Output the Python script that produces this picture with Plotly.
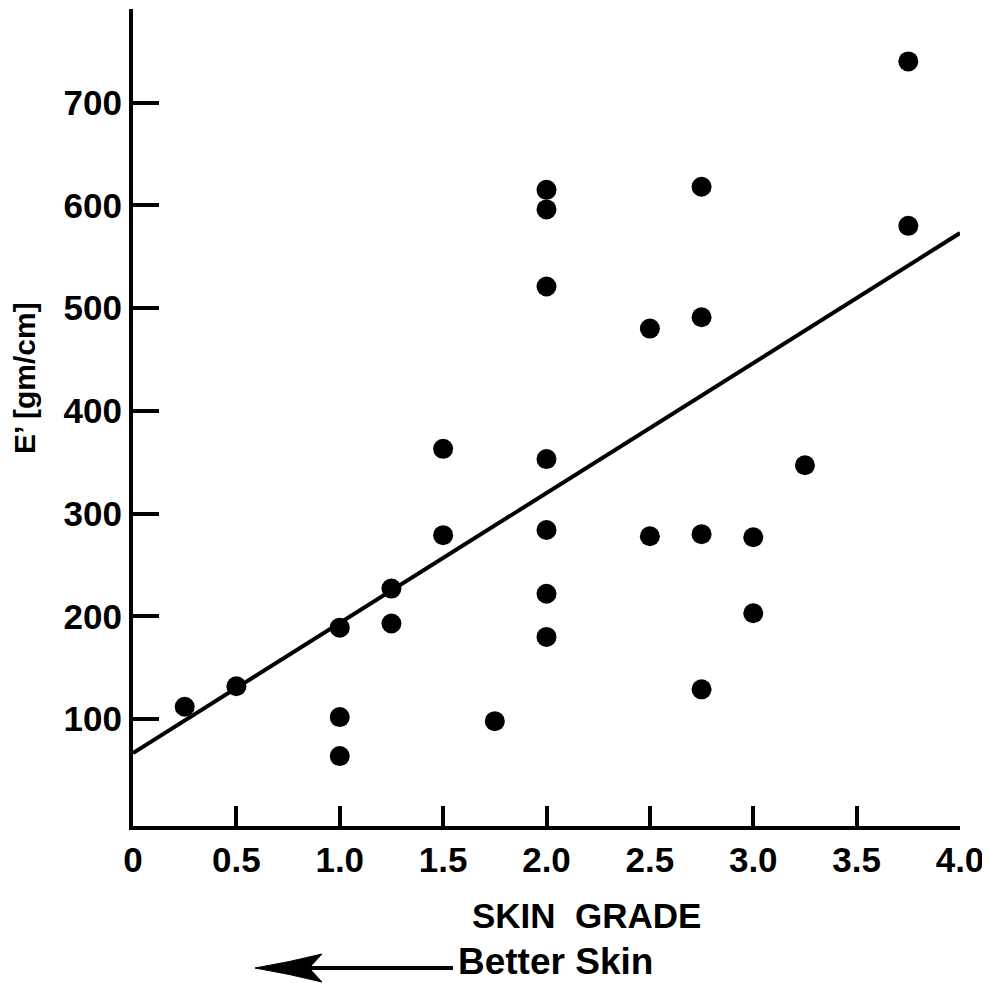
import plotly.graph_objects as go

# ---- data ----
skin_grade = [0.25, 0.5, 1.0, 1.0, 1.0, 1.25, 1.25, 1.5, 1.5, 1.75,
              2.0, 2.0, 2.0, 2.0, 2.0, 2.0, 2.0, 2.5, 2.5,
              2.75, 2.75, 2.75, 2.75, 3.0, 3.0, 3.25, 3.75, 3.75]
e_prime = [112, 132, 189, 102, 64, 193, 227, 279, 363, 98,
           222, 180, 284, 353, 521, 596, 615, 480, 278,
           618, 491, 280, 129, 277, 203, 347, 740, 580]
fit_x = [0.0, 4.0]
fit_y = [67, 573]
x_ticks = [0, 0.5, 1.0, 1.5, 2.0, 2.5, 3.0, 3.5, 4.0]
x_tick_labels = ["0", "0.5", "1.0", "1.5", "2.0", "2.5", "3.0", "3.5", "4.0"]
y_ticks = [100, 200, 300, 400, 500, 600, 700]
y_tick_labels = ["100", "200", "300", "400", "500", "600", "700"]

# the page body has an 8px margin; work in screen pixels and shift
OFF = 8
SW, SH = 990, 983
W, H = SW - OFF, SH - OFF
plot_left, plot_right, plot_top, plot_bottom = 133, 960, 9, 826  # screen px
L = plot_left - OFF
T = plot_top - OFF
R = W - (plot_right - OFF)
B = H - (plot_bottom - OFF)
PW, PH = W - L - R, H - T - B


def px(x):
    return (x - plot_left) / PW


def py(y):
    return (plot_bottom - y) / PH


FONT = "Liberation Sans, Arial, Helvetica, sans-serif"

fig = go.Figure()
fig.add_trace(go.Scatter(x=fit_x, y=fit_y, mode="lines",
                         line=dict(color="black", width=4),
                         hoverinfo="skip", showlegend=False))
fig.add_trace(go.Scatter(x=skin_grade, y=e_prime, mode="markers",
                         marker=dict(color="black", size=20, line=dict(width=0)),
                         cliponaxis=False, showlegend=False))

axis_common = dict(showline=True, linecolor="black", linewidth=4,
                   ticks="inside", tickcolor="black", tickwidth=4,
                   showgrid=False, zeroline=False,
                   tickfont=dict(family=FONT, size=35, color="black", weight="bold"))

fig.update_xaxes(range=[0, 4], tickmode="array", tickvals=x_ticks,
                 ticktext=x_tick_labels, ticklen=20, ticklabelstandoff=0,
                 **axis_common)
fig.update_yaxes(range=[-4, 791], tickmode="array", tickvals=y_ticks,
                 ticktext=y_tick_labels, ticklen=26, ticklabelstandoff=0,
                 **axis_common)

annots = [
    dict(text="E’ [gm/cm]", x=px(24), y=py(378), textangle=-90,
         font=dict(family=FONT, size=30, color="black", weight="bold"),
         xanchor="center", yanchor="middle"),
    dict(text="SKIN\u00a0\u00a0GRADE", x=px(586), y=py(916),
         font=dict(family=FONT, size=35, color="black", weight="bold"),
         xanchor="center", yanchor="middle"),
    dict(text="Better Skin", x=px(456), y=py(961),
         font=dict(family=FONT, size=37, color="black", weight="bold"),
         xanchor="left", yanchor="middle"),
]
for a in annots:
    a.update(xref="paper", yref="paper", showarrow=False)
fig.update_layout(annotations=annots)

# arrow pointing left (decoration)
head = (f"M {px(255)},{py(968)} "
        f"Q {px(290)},{py(962)} {px(322)},{py(954)} "
        f"L {px(309)},{py(968)} "
        f"L {px(322)},{py(982)} "
        f"Q {px(290)},{py(974)} {px(255)},{py(968)} Z")
fig.add_shape(type="path", path=head, xref="paper", yref="paper",
              fillcolor="black", line=dict(color="black", width=1))
fig.add_shape(type="line", x0=px(310), x1=px(453), y0=py(968), y1=py(968),
              xref="paper", yref="paper", line=dict(color="black", width=4))

fig.update_layout(width=W, height=H,
                  margin=dict(l=L, r=R, t=T, b=B, pad=0),
                  plot_bgcolor="white", paper_bgcolor="white",
                  showlegend=False)

fig.write_html("out.html")
